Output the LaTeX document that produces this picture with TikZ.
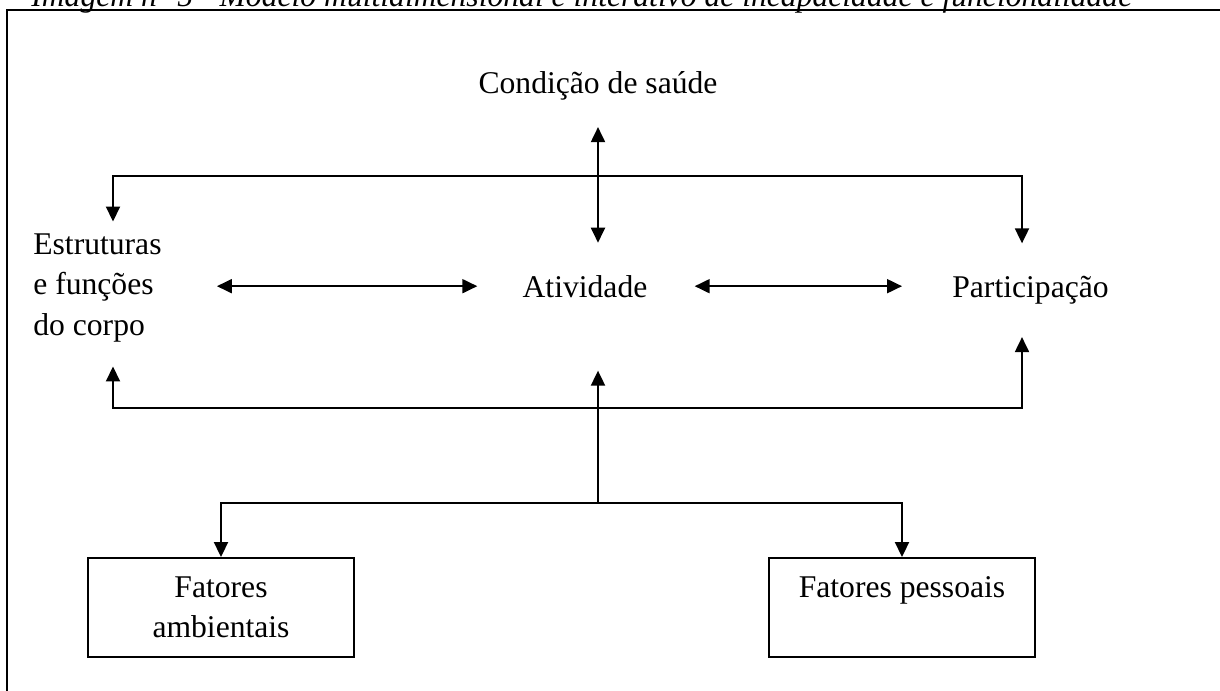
\documentclass[tikz,border=0pt]{standalone}
\usepackage{fontspec}
\setmainfont{Liberation Serif}
\usetikzlibrary{arrows.meta,positioning,calc}
\tikzset{
>={Triangle[length=0.3cm,width=0.28cm]},
texto/.style={inner sep=0pt,font=\fontsize{18}{23}\selectfont},
caixa/.style={draw,line width=1.1pt,inner sep=0pt,align=center,
  minimum width=5.32cm,minimum height=1.98cm,font=\fontsize{18}{23}\selectfont},
seta/.style={->,line width=1.1pt},
dupla/.style={<->,line width=1.1pt}}

\begin{document}
\begin{tikzpicture}[x=0.02cm,y=-0.02cm]

\useasboundingbox (0,0) rectangle (1220,690);
\clip (0,0) rectangle (1220,690);

% legenda e moldura
\node[anchor=base west,inner sep=0pt,font=\itshape\fontsize{18}{21}\selectfont] (legenda) at (31,6)
  {Imagem n° 5 - Modelo multidimensional e interativo de incapacidade e funcionalidade};
\draw[line width=1.1pt] (1240,10) -- (7,10) -- (7,710);

% textos
\node[texto,anchor=west,align=left] (corpo) at (33,288) {Estruturas\\e funções\\do corpo};
\node[texto,anchor=base] (saude) at (598,93) {Condição de saúde};
\node[texto,anchor=base] (ativ) at (585,297) {Atividade};
\node[texto,anchor=base west] (part) at (952,297) {Participação};

% caixas
\node[caixa] (amb) at (221,607.5) {Fatores\\ambientais};
\node[caixa] (pess) at (902,607.5) {Fatores pessoais\\\phantom{ambientais}};

% pontos de junção
\coordinate (c1) at (113,176);
\coordinate (c2) at (1022,176);
\coordinate (b1) at (113,408);
\coordinate (b2) at (1022,408);
\coordinate (m2) at (598,503);

\draw[dupla,shorten <=0.54cm,shorten >=0.64cm] (saude.south) -- (saude.south |- ativ.north);
\draw[dupla,shorten <=0.24cm,shorten >=0.64cm] (c1 |- corpo.north) -- (c1) -- (c2) -- (c2 |- part.north);

\draw[dupla,shorten <=1.1cm,shorten >=0.9cm] (corpo.east |- ativ) -- (ativ.west);
\draw[dupla,shorten <=0.94cm,shorten >=1.0cm] (ativ.east) -- (part.west |- ativ);

\draw[dupla,shorten <=0.48cm,shorten >=0.66cm] (b1 |- corpo.south) -- (b1) -- (b2) -- (b2 |- part.south);
\draw[seta,shorten >=1.46cm] (m2) -- (m2 |- ativ.south);

\draw[dupla] (amb.north) -- (amb |- m2) -- (pess |- m2) -- (pess.north);

\end{tikzpicture}
\end{document}
